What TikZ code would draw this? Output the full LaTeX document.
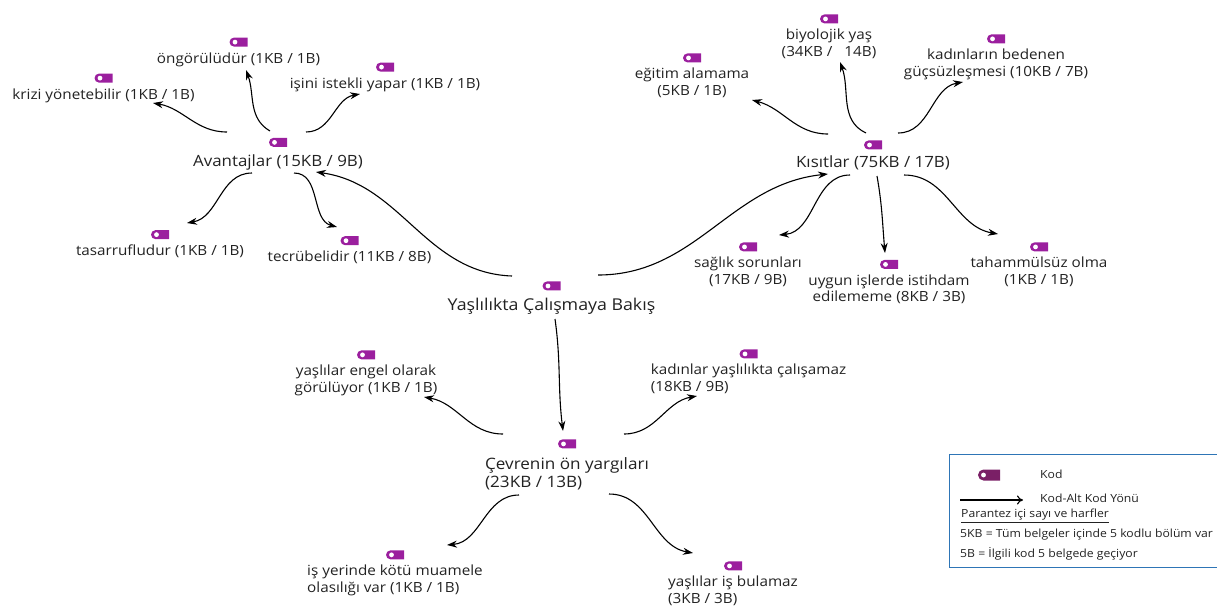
\documentclass[tikz,border=0pt]{standalone}
\usepackage{fontspec}
\setmainfont[FakeStretch=1.09]{Open Sans}
\usepackage{tikz}
\usetikzlibrary{arrows.meta,positioning,shapes.misc}
\definecolor{kodmor}{HTML}{9B1F9E}
\definecolor{koyumor}{HTML}{7A1F66}
\definecolor{yazi}{HTML}{222222}
\definecolor{kutu}{HTML}{2E75B6}
\tikzset{
  kod/.style={rounded rectangle,rounded rectangle east arc=none,fill=kodmor,minimum width=18pt,minimum height=9pt,inner sep=0pt,
    path picture={\fill[white] ([xshift=5.5pt]path picture bounding box.west) circle (2.4pt);}},
  legendkod/.style={kod,fill=koyumor,minimum width=22pt,minimum height=11pt},
  etiket/.style={inner sep=0pt,text=yazi,align=center,font=\fontsize{14}{16.5}\selectfont},
  soletiket/.style={etiket,align=left},
  anaetiket/.style={etiket,font=\fontsize{15.5}{18}\selectfont},
  legendyazi/.style={inner sep=0pt,anchor=west,text=yazi,font=\fontsize{11.2}{12}\selectfont},
  ok/.style={-{Stealth[length=10pt,width=7pt]},line width=1.1pt,black},
}
\begin{document}
\begin{tikzpicture}[x=1pt,y=-1pt,node distance=5.5pt]
  \useasboundingbox (0,0) rectangle (1217,606);

  % ana kod
  \node[anaetiket,font=\fontsize{16.3}{18}\selectfont] (yaslilikta) at (551.5,306) {Yaşlılıkta Çalışmaya Bakış};
  \node[kod,above=7pt of yaslilikta] (yasliliktakod) {};

  % avantajlar
  \node[anaetiket] (avantajlar) at (278,162) {Avantajlar (15KB / 9B)};
  \node[kod,above=7pt of avantajlar] (avantajlarkod) {};
  \node[etiket] (krizi) at (103.5,95.5) {krizi yönetebilir (1KB / 1B)};
  \node[kod,above=of krizi] (krizikod) {};
  \node[etiket] (ongoru) at (238.5,59.5) {öngörülüdür (1KB / 1B)};
  \node[kod,above=of ongoru] (ongorukod) {};
  \node[etiket] (isteklilik) at (385,84.5) {işini istekli yapar (1KB / 1B)};
  \node[kod,above=of isteklilik] (isteklilikkod) {};
  \node[etiket] (tasarruf) at (160,251.5) {tasarrufludur (1KB / 1B)};
  \node[kod,above=of tasarruf] (tasarrufkod) {};
  \node[etiket] (tecrube) at (349.5,257.5) {tecrübelidir (11KB / 8B)};
  \node[kod,above=of tecrube] (tecrubekod) {};

  % kisitlar
  \node[anaetiket] (kisitlar) at (873,163) {Kısıtlar (75KB / 17B)};
  \node[kod,above=6pt of kisitlar] (kisitlarkod) {};
  \node[etiket] (egitim) at (692,83) {eğitim alamama\\(5KB / 1B)};
  \node[kod,above=of egitim] (egitimkod) {};
  \node[etiket] (biyolojik) at (829,44) {biyolojik yaş\\(34KB /\ \ \ 14B)};
  \node[kod,above=of biyolojik] (biyolojikkod) {};
  \node[etiket] (bedenen) at (996,64.5) {kadınların bedenen\\güçsüzleşmesi (10KB / 7B)};
  \node[kod,above=of bedenen] (bedenenkod) {};
  \node[etiket] (saglik) at (748,272) {sağlık sorunları\\(17KB / 9B)};
  \node[kod,above=of saglik] (saglikkod) {};
  \node[etiket] (istihdam) at (889,289.5) {uygun işlerde istihdam\\edilememe (8KB / 3B)};
  \node[kod,above=of istihdam] (istihdamkod) {};
  \node[etiket] (tahammul) at (1039,272) {tahammülsüz olma\\(1KB / 1B)};
  \node[kod,above=of tahammul] (tahammulkod) {};

  % cevre
  \node[soletiket,font=\fontsize{15.7}{18}\selectfont] (cevre) at (567,474) {Çevrenin ön yargıları\\(23KB / 13B)};
  \node[kod,above=9pt of cevre] (cevrekod) {};
  \node[etiket] (engel) at (366,380.5) {yaşlılar engel olarak\\görülüyor (1KB / 1B)};
  \node[kod,above=of engel] (engelkod) {};
  \node[soletiket] (calisamaz) at (748.5,379) {kadınlar yaşlılıkta çalışamaz\\(18KB / 9B)};
  \node[kod,above=of calisamaz] (calisamazkod) {};
  \node[soletiket] (muamele) at (395,580.5) {iş yerinde kötü muamele\\olasılığı var (1KB / 1B)};
  \node[kod,above=of muamele] (muamelekod) {};
  \node[soletiket] (bulamaz) at (733,591) {yaşlılar iş bulamaz\\(3KB / 3B)};
  \node[kod,above=of bulamaz] (bulamazkod) {};

  \draw[ok] ([shift={(-39.5,-30)}]yaslilikta.center) to[out=178,in=-8] ([shift={(38,10)}]avantajlar.center);
  \draw[ok] ([shift={(46.5,-31)}]yaslilikta.center) to[out=0,in=186] ([shift={(-45,11)}]kisitlar.center);
  \draw[ok] ([shift={(3.5,13)}]yaslilikta.center) to[out=-82,in=97] ([shift={(-4,-43)}]cevre.center);

  \draw[ok] ([shift={(-51,-30)}]avantajlar.center) to[out=180,in=-10] ([shift={(49.5,7.5)}]krizi.center);
  \draw[ok] ([shift={(-8,-31)}]avantajlar.center) to[out=150,in=-70] ([shift={(7.5,10.5)}]ongoru.center);
  \draw[ok] ([shift={(28,-30)}]avantajlar.center) to[out=0,in=190] ([shift={(-25,9.5)}]isteklilik.center);
  \draw[ok] ([shift={(-26,11)}]avantajlar.center) to[out=180,in=10] ([shift={(27,-28.5)}]tasarruf.center);
  \draw[ok] ([shift={(16,11)}]avantajlar.center) to[out=0,in=165] ([shift={(-12.5,-30.5)}]tecrube.center);

  \draw[ok] ([shift={(-45,-29)}]kisitlar.center) to[out=180,in=-15] ([shift={(60,17)}]egitim.center);
  \draw[ok] ([shift={(-7,-30)}]kisitlar.center) to[out=155,in=-70] ([shift={(11,18)}]biyolojik.center);
  \draw[ok] ([shift={(25,-30)}]kisitlar.center) to[out=0,in=190] ([shift={(-33,17.5)}]bedenen.center);
  \draw[ok] ([shift={(-23,12)}]kisitlar.center) to[out=180,in=5] ([shift={(31,-37)}]saglik.center);
  \draw[ok] ([shift={(4,13)}]kisitlar.center) to[out=-80,in=95] ([shift={(-4,-36.5)}]istihdam.center);
  \draw[ok] ([shift={(31,12)}]kisitlar.center) to[out=0,in=170] ([shift={(-41,-38)}]tahammul.center);

  \draw[ok] ([shift={(-64,-40)}]cevre.center) to[out=180,in=-10] ([shift={(58,16.5)}]engel.center);
  \draw[ok] ([shift={(57,-40)}]cevre.center) to[out=0,in=190] ([shift={(-51.5,17)}]calisamaz.center);
  \draw[ok] ([shift={(-48,21)}]cevre.center) to[out=180,in=5] ([shift={(52,-35.5)}]muamele.center);
  \draw[ok] ([shift={(42,20)}]cevre.center) to[out=0,in=170] ([shift={(-40,-38)}]bulamaz.center);

  % legend
  \node[draw=kutu,line width=1pt,minimum width=272pt,minimum height=113pt,anchor=north west,inner sep=0pt] (legend) at (949,454) {};
  \node[legendkod] (legendkodu) at (989,475) {};
  \node[legendyazi] (legendkodyazi) at (1040,474) {Kod};
  \coordinate (oksol) at (960,500);
  \coordinate (oksag) at (1023,500);
  \draw[-{To[length=6pt,width=9pt]},line width=1.1pt,black] (oksol) -- (oksag);
  \node[legendyazi] (legendokyazi) at (1040,498) {Kod-Alt Kod Yönü};
  \node[legendyazi] (parantez) at (961,516) {\underline{Parantez içi sayı ve harfler}};
  \node[legendyazi] (kbyazi) at (960,535) {5KB = Tüm belgeler içinde 5 kodlu bölüm var};
  \node[legendyazi] (byazi) at (960,554) {5B = İlgili kod 5 belgede geçiyor};
\end{tikzpicture}
\end{document}
